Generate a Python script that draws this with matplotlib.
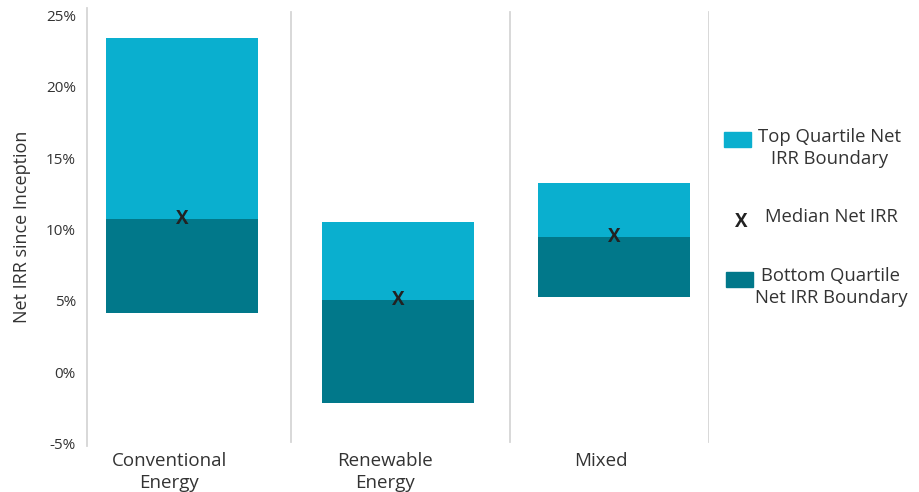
import matplotlib
matplotlib.use("Agg")
import matplotlib.pyplot as plt
from matplotlib.patches import Rectangle

plt.rcParams['font.family'] = ['Open Sans', 'DejaVu Sans']

categories = ["Conventional\nEnergy", "Renewable\nEnergy", "Mixed"]
top_quartile = [23.4, 10.5, 13.25]
median = [10.7, 5.05, 9.45]
bottom_quartile = [4.15, -2.15, 5.3]
yticks = [-5, 0, 5, 10, 15, 20, 25]

c_top = '#0AAFCF'
c_bot = '#01788A'
txt = '#333333'
grid = '#d6d6d6'

fig = plt.figure(figsize=(9.2, 4.92), dpi=100)
ax = fig.add_axes([87/920, 46/492, (709-87)/920, (484-46)/492])

x = list(range(len(categories)))
w = 0.70
ax.bar(x, [t - m for t, m in zip(top_quartile, median)], bottom=median, width=w, color=c_top, zorder=2)
ax.bar(x, [m - b for m, b in zip(median, bottom_quartile)], bottom=bottom_quartile, width=w, color=c_bot, zorder=2)
for xi, m in zip(x, median):
    ax.text(xi, m, "X", ha='center', va='center', fontsize=13.5, color='#222222', fontweight='bold', zorder=3)

ax.set_xlim(-0.44, 2.44)
ax.set_ylim(-5.15, 25.5)
for sep in [0.505, 1.52, 2.44]:
    ax.axvline(sep, ymin=0.01, ymax=0.99, color=grid, lw=1.3, zorder=1)

for s in ['top', 'right', 'bottom']:
    ax.spines[s].set_visible(False)
ax.spines['left'].set_color(grid)
ax.spines['left'].set_linewidth(1.3)

ax.set_yticks(yticks)
ax.set_yticklabels([f"{v}%" for v in yticks], fontsize=11, color=txt)
ax.set_xticks([xi - 0.06 for xi in x])
ax.set_xticklabels(categories, fontsize=13.5, color=txt, linespacing=1.3)
ax.tick_params(axis='both', length=0)
ax.tick_params(axis='y', pad=8)
ax.tick_params(axis='x', pad=4)
ax.set_ylabel("Net IRR since Inception", fontsize=13, color=txt, labelpad=11)

# legend
def fx(px): return px / 920
def fy(py): return 1 - py / 492
fig.patches.append(Rectangle((fx(724), fy(147)), 27/920, 15/492, transform=fig.transFigure, color=c_top))
fig.patches.append(Rectangle((fx(726), fy(287)), 27/920, 15/492, transform=fig.transFigure, color=c_bot))
fig.text(fx(830), fy(148), "Top Quartile Net\nIRR Boundary", ha='center', va='center', fontsize=13.3, color=txt, linespacing=1.3)
fig.text(fx(741), fy(222), "X", ha='center', va='center', fontsize=13.5, color='#222222', fontweight='bold')
fig.text(fx(831), fy(217), "Median Net IRR", ha='center', va='center', fontsize=13.3, color=txt)
fig.text(fx(831), fy(287), "Bottom Quartile\nNet IRR Boundary", ha='center', va='center', fontsize=13.3, color=txt, linespacing=1.3)

fig.savefig("out.png", dpi=100)
